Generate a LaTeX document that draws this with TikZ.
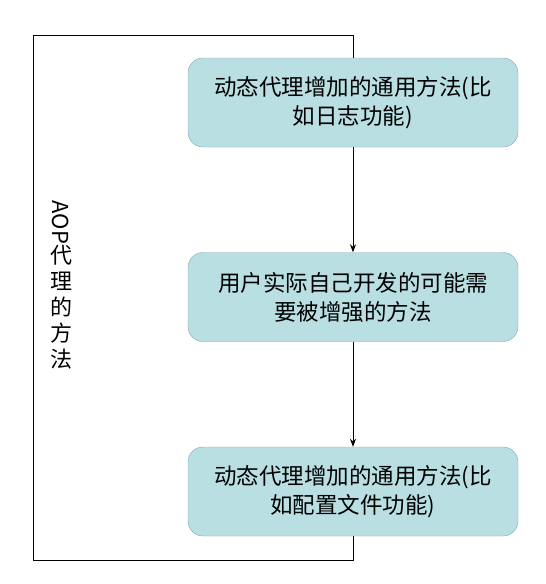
\documentclass[tikz,border=0pt]{standalone}
\usepackage{fontspec}
\setmainfont{Noto Sans CJK SC}
\usepackage{tikz}
\usetikzlibrary{shapes.geometric, arrows, arrows.meta, positioning}
\definecolor{boxfill}{RGB}{185,223,227}
\definecolor{boxline}{RGB}{128,168,172}
\tikzstyle{method} = [rectangle, rounded corners=15pt, minimum width=330pt, minimum height=89pt, text centered, align=center, draw=boxline, fill=boxfill, font=\fontsize{22.5}{29}\selectfont]
\tikzstyle{frame} = [line width=0.8pt, draw=black]
\tikzstyle{arrow} = [line width=0.8pt, -{Stealth[length=8pt, width=6pt]}]

\begin{document}
\begin{tikzpicture}[x=1pt, y=-1pt, node distance=194.5pt]
    \useasboundingbox (0,0) rectangle (546,584);
    \coordinate (tl) at (33,35);
    \coordinate (bl) at (33,560);
    \node (common) [method] at (353,102.5) {动态代理增加的通用方法(比\\如日志功能)};
    \node (user) [method, below of=common] {用户实际自己开发的可能需\\要被增强的方法};
    \node (config) [method, below of=user] {动态代理增加的通用方法(比\\如配置文件功能)};
    \node (aop) [align=center, font=\fontsize{22}{26}\selectfont] at (61,285) {\rotatebox[origin=c]{-90}{AOP}\\代\\理\\的\\方\\法};

    \draw [frame] (config.south) -- (config.south |- bl) -- (bl) -- (tl) -- (tl -| common.north) -- (common.north);
    \draw [arrow] (common) -- (user);
    \draw [arrow] (user) -- (config);
\end{tikzpicture}
\end{document}
